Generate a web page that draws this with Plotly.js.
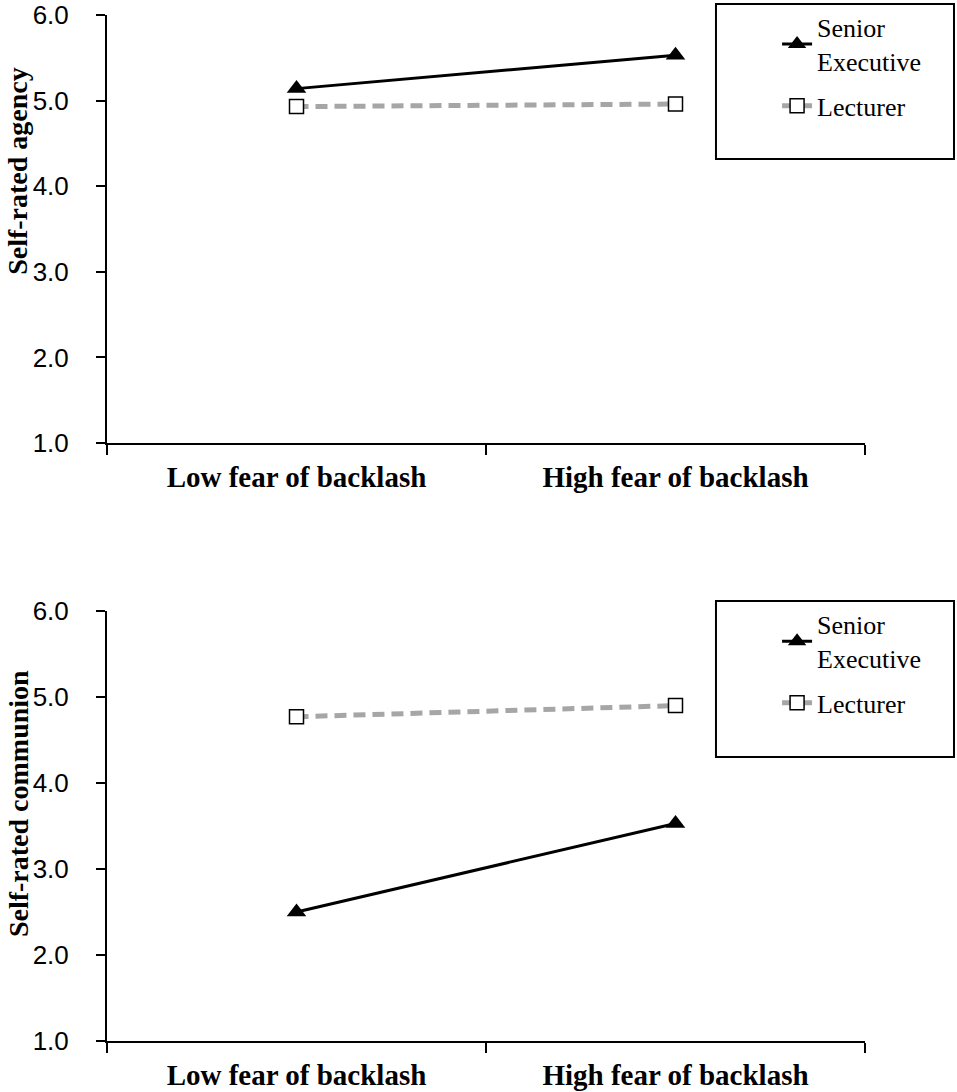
<!DOCTYPE html>
<html>
<head>
<meta charset="utf-8">
<script src="https://cdn.plot.ly/plotly-3.0.1.min.js"></script>
<style>
  html, body { margin: 0; padding: 0; background: #fff; }
  #chart { width: 957px; height: 1092px; }
</style>
</head>
<body>
<div id="chart"></div>
<script>
// Data.
const categories = ['Low fear of backlash', 'High fear of backlash'];
const agencySenior = [5.14, 5.53];
const agencyLecturer = [4.93, 4.96];
const communionSenior = [2.50, 3.53];
const communionLecturer = [4.77, 4.90];
const yTickVals = [1, 2, 3, 4, 5, 6];
const seriesNames = ['Senior<br>Executive', 'Lecturer'];
const panelTitles = ['Self-rated agency', 'Self-rated communion'];

const serif = '"Liberation Serif", "Times New Roman", serif';
const sans = '"Liberation Sans", Arial, sans-serif';

function seniorTrace(y, xa, ya, legend) {
  return {
    x: categories, y: y, xaxis: xa, yaxis: ya, legend: legend,
    name: seriesNames[0], legendgroup: 'senior' + xa,
    mode: 'lines+markers',
    line: {color: '#000000', width: 3},
    marker: {symbol: 'triangle-up', size: 17, color: '#000000'}
  };
}

function lecturerTrace(y, xa, ya, legend) {
  return {
    x: categories, y: y, xaxis: xa, yaxis: ya, legend: legend,
    name: seriesNames[1], legendgroup: 'lecturer' + xa,
    mode: 'lines+markers',
    line: {color: '#a6a6a6', width: 5, dash: '12px,7px'},
    marker: {symbol: 'square', size: 14, color: '#ffffff', line: {color: '#000000', width: 1.5}}
  };
}

const data = [
  seniorTrace(agencySenior, 'x', 'y', 'legend'),
  lecturerTrace(agencyLecturer, 'x', 'y', 'legend'),
  seniorTrace(communionSenior, 'x2', 'y2', 'legend2'),
  lecturerTrace(communionLecturer, 'x2', 'y2', 'legend2')
];

function xAxis(anchor) {
  return {
    anchor: anchor,
    domain: [0, 1],
    type: 'category',
    range: [-0.5, 1.5],
    tickson: 'boundaries',
    ticks: 'outside',
    ticklen: 10,
    tickwidth: 2,
    tickcolor: '#000',
    showline: true,
    linecolor: '#000',
    linewidth: 2,
    showgrid: false,
    zeroline: false,
    automargin: false,
    ticklabelstandoff: 7,
    tickfont: {family: serif, size: 29, color: '#000', weight: 'bold'}
  };
}

function yAxis(anchor, domain) {
  return {
    anchor: anchor,
    domain: domain,
    range: [1, 6],
    tickvals: yTickVals,
    tickformat: '.1f',
    ticks: 'outside',
    ticklen: 9,
    tickwidth: 2,
    tickcolor: '#000',
    showline: true,
    linecolor: '#000',
    linewidth: 2,
    showgrid: false,
    zeroline: false,
    automargin: false,
    ticklabelstandoff: 22,
    tickfont: {family: sans, size: 26, color: '#000'}
  };
}

function legendBox(y) {
  return {
    x: 0.884, y: y, xanchor: 'left', yanchor: 'top',
    bgcolor: 'rgba(0,0,0,0)', borderwidth: 0,
    traceorder: 'grouped', tracegroupgap: 8,
    font: {family: serif, size: 26, color: '#000'},
    itemwidth: 30
  };
}

// Axis titles sit slightly above the middle of each axis, as in the original.
function sideTitle(text, yref, y) {
  return {
    text: text, xref: 'paper', x: 0, xshift: -89, xanchor: 'center',
    yref: yref, y: y, yanchor: 'middle', textangle: -90, showarrow: false,
    font: {family: serif, size: 28, color: '#000', weight: 'bold'}
  };
}

const layout = {
  width: 957,
  height: 1092,
  margin: {l: 107, r: 92, t: 15, b: 51, autoexpand: false},
  font: {family: serif, color: '#000'},
  paper_bgcolor: '#ffffff',
  plot_bgcolor: '#ffffff',
  showlegend: true,
  xaxis: xAxis('y'),
  yaxis: yAxis('x', [0.5828, 1]),
  xaxis2: xAxis('y2'),
  yaxis2: yAxis('x2', [0, 0.4191]),
  legend: legendBox(1.011),
  legend2: legendBox(0.429),
  annotations: [
    sideTitle(panelTitles[0], 'y domain', 0.636),
    sideTitle(panelTitles[1], 'y2 domain', 0.551)
  ],
  shapes: [
    {type: 'rect', xref: 'paper', yref: 'paper', x0: 0.8034, x1: 1.1174, y0: 0.8596, y1: 1.0107,
     line: {color: '#000', width: 2}},
    {type: 'rect', xref: 'paper', yref: 'paper', x0: 0.8034, x1: 1.1174, y0: 0.2768, y1: 0.4289,
     line: {color: '#000', width: 2}}
  ]
};

Plotly.newPlot('chart', data, layout, {displayModeBar: false, staticPlot: true});
</script>
</body>
</html>
